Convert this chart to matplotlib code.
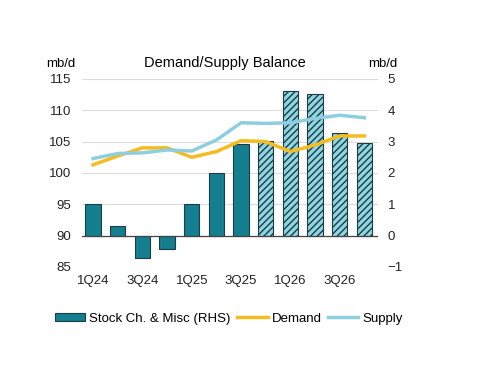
import matplotlib
matplotlib.use('Agg')
import matplotlib.pyplot as plt
from matplotlib.patches import Patch
from matplotlib.lines import Line2D
import numpy as np

plt.rcParams['font.family'] = ['Liberation Sans', 'DejaVu Sans']
plt.rcParams['hatch.linewidth'] = 1.0

quarters = ['1Q24', '2Q24', '3Q24', '4Q24', '1Q25', '2Q25', '3Q25', '4Q25',
            '1Q26', '2Q26', '3Q26', '4Q26']
stock_change = [1.0, 0.32, -0.72, -0.44, 1.0, 2.0, 2.91, 3.03, 4.6, 4.52, 3.27, 2.96]
forecast = [False] * 7 + [True] * 5
demand = [101.3, 102.7, 104.0, 104.0, 102.5, 103.4, 105.15, 105.0, 103.4, 104.45, 105.9, 105.9]
supply = [102.3, 103.1, 103.2, 103.66, 103.5, 105.25, 108.0, 107.9, 108.0, 108.7, 109.2, 108.8]

teal = '#137f8f'
edge = '#1d3c44'
light = '#8fd6e3'
gold = '#f4bd1f'
sky = '#8ecfdf'
fs = 9.5

fig = plt.figure(figsize=(5, 3.83), dpi=100)
ax = fig.add_axes([0.164, 0.303, 0.592, 0.491])
ax2 = ax.twinx()

x = np.arange(len(quarters))

# bars on right axis, forecast quarters hatched
for xi, v, fc in zip(x, stock_change, forecast):
	if fc:
		ax2.bar(xi, v, width=0.62, color=light, edgecolor=edge, hatch='/////', linewidth=0.8, zorder=2)
	else:
		ax2.bar(xi, v, width=0.62, color=teal, edgecolor=edge, linewidth=0.8, zorder=2)
ax2.axhline(0, color='#444444', lw=0.9, zorder=3)

# lines drawn on the right axis after converting (same grid: 90 <-> 0, 5 mb/d per unit)
ax2.plot(x, [(d - 90) / 5 for d in demand], color=gold, lw=2.5, zorder=4)
ax2.plot(x, [(s - 90) / 5 for s in supply], color=sky, lw=2.5, zorder=4)

ax.set_ylim(85, 115)
ax2.set_ylim(-1, 5)
ax.set_yticks(range(85, 116, 5))
ax2.set_yticks(range(-1, 6))
ax.set_xlim(-0.45, 11.55)
ax.set_xticks(x[::2])
ax.set_xticklabels(quarters[::2])
ax.yaxis.grid(True, color='#dcdcdc', lw=0.8)
ax.set_axisbelow(True)

for a in (ax, ax2):
	for s in a.spines.values():
		s.set_visible(False)
	a.tick_params(length=0, labelsize=fs, colors='#222222')
ax.tick_params(axis='x', pad=6)
ax.tick_params(axis='y', pad=8)
ax2.tick_params(axis='y', pad=7)

fig.text(0.45, 0.835, 'Demand/Supply Balance', ha='center', va='center', fontsize=10.5)
fig.text(0.122, 0.833, 'mb/d', ha='center', va='center', fontsize=fs)
fig.text(0.766, 0.833, 'mb/d', ha='center', va='center', fontsize=fs)

handles = [Patch(facecolor=teal, edgecolor=edge, linewidth=0.8),
           Line2D([], [], color=gold, lw=2.5),
           Line2D([], [], color=sky, lw=2.5)]
labels = ['Stock Ch. & Misc (RHS)', 'Demand', 'Supply']
fig.legend(handles, labels, loc='center left', bbox_to_anchor=(0.086, 0.168), ncol=3,
           frameon=False, fontsize=fs, handlelength=2.3, handleheight=0.5,
           handletextpad=0.3, columnspacing=0.5)

fig.savefig('out.png', dpi=100)
